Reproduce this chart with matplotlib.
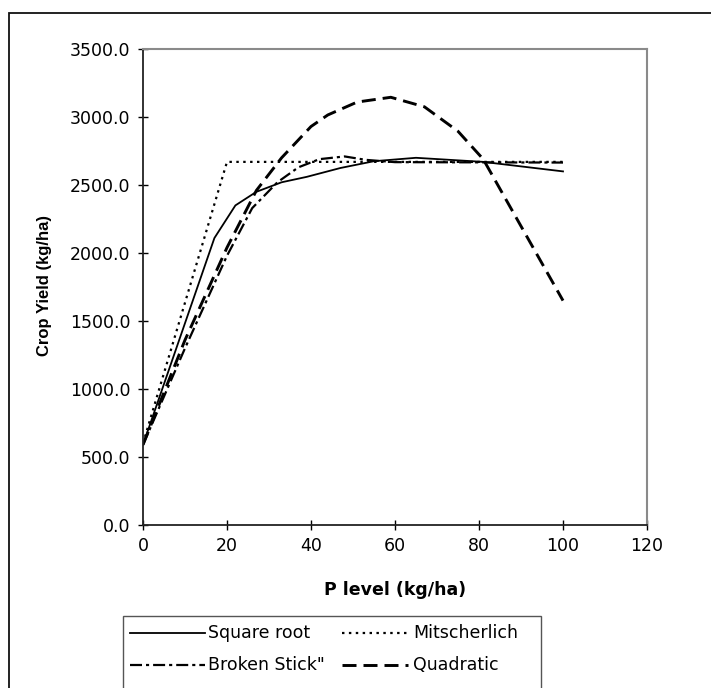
import matplotlib
matplotlib.use("Agg")
import matplotlib.pyplot as plt
from matplotlib.patches import Rectangle
from matplotlib.lines import Line2D

plt.rcParams['font.family'] = ['DejaVu Sans']

# Fitted response curves: P level (kg/ha) vs crop yield (kg/ha)
sqrt_x = [0, 17, 22, 27, 33, 39, 47, 55, 65, 81, 100]
sqrt_y = [590, 2110, 2350, 2450, 2520, 2560, 2625, 2675, 2700, 2670, 2600]

mitsch_x = [0, 20, 100]
mitsch_y = [600, 2670, 2670]

broken_x = [0, 10, 20, 26, 32, 37, 42, 48, 53, 60, 100]
broken_y = [590, 1300, 1980, 2330, 2520, 2630, 2690, 2710, 2685, 2668, 2665]

quad_x = [0, 10, 20, 27, 33, 40, 44, 51, 59, 67, 75, 81, 100]
quad_y = [590, 1360, 2040, 2460, 2700, 2930, 3015, 3110, 3145, 3075, 2895, 2690, 1650]

x_ticks = [0, 20, 40, 60, 80, 100, 120]
y_ticks = [0, 500, 1000, 1500, 2000, 2500, 3000, 3500]

styles = {
    'Square root': dict(color='black', lw=1.3, ls='-'),
    'Mitscherlich': dict(color='black', lw=1.6, ls=(0, (1.1, 2.0))),
    'Broken Stick"': dict(color='black', lw=1.6, ls=(0, (5.4, 1.8, 1.4, 1.8))),
    'Quadratic': dict(color='black', lw=2.1, ls=(0, (4.8, 2.4))),
}

W, H = 711, 688
fig = plt.figure(figsize=(W / 100, H / 100), dpi=100)
ax = fig.add_axes([143 / W, 1 - 525 / H, 504 / W, 476 / H])

ax.plot(sqrt_x, sqrt_y, **styles['Square root'])
ax.plot(mitsch_x, mitsch_y, **styles['Mitscherlich'])
ax.plot(broken_x, broken_y, **styles['Broken Stick"'])
ax.plot(quad_x, quad_y, **styles['Quadratic'])

ax.set_xlim(0, 120)
ax.set_ylim(0, 3500)
ax.set_xticks(x_ticks)
ax.set_yticks(y_ticks)
ax.set_xticklabels([str(v) for v in x_ticks])
ax.set_yticklabels([f"{v:.1f}" for v in y_ticks])
ax.tick_params(axis='both', direction='inout', length=7.5, width=1, labelsize=12.5, colors='black')
ax.tick_params(axis='x', pad=5)
ax.tick_params(axis='y', pad=5.5)

for side in ('left', 'bottom'):
    ax.spines[side].set_color('#222222')
    ax.spines[side].set_linewidth(1.3)
for side in ('top', 'right'):
    ax.spines[side].set_color('#8a8a8a')
    ax.spines[side].set_linewidth(1.5)

fig.text(395 / W, 1 - 590 / H, 'P level (kg/ha)', fontsize=12.5, fontweight='bold',
         ha='center', va='center')
fig.text(45 / W, 1 - 285 / H, 'Crop Yield (kg/ha)', fontsize=12, fontweight='bold',
         family='Liberation Sans', rotation=90, ha='center', va='center')

# Chart area border
fig.add_artist(Rectangle((9 / W, -0.05), (W + 5 - 9) / W, 1.05 - 13 / H,
                         transform=fig.transFigure, fill=False,
                         edgecolor='#111111', lw=1.3))

# Legend box, running past the bottom edge
fig.add_artist(Rectangle((123 / W, -0.05), (541 - 123) / W, 0.05 + (H - 616) / H,
                         transform=fig.transFigure, fill=True, facecolor='white',
                         edgecolor='#555555', lw=1.0))

legend_rows = [
    [('Square root', 130, 205, 208), ('Mitscherlich', 342, 408, 413)],
    [('Broken Stick"', 130, 205, 208), ('Quadratic', 342, 408, 413)],
]
row_y = [633, 665]
for row, yy in zip(legend_rows, row_y):
    for name, hx0, hx1, tx in row:
        fy = 1 - yy / H
        fig.add_artist(Line2D([hx0 / W, hx1 / W], [fy, fy], transform=fig.transFigure,
                              **styles[name]))
        fig.text(tx / W, fy, name, fontsize=12.5, ha='left', va='center')

fig.savefig('out.png', dpi=100)
